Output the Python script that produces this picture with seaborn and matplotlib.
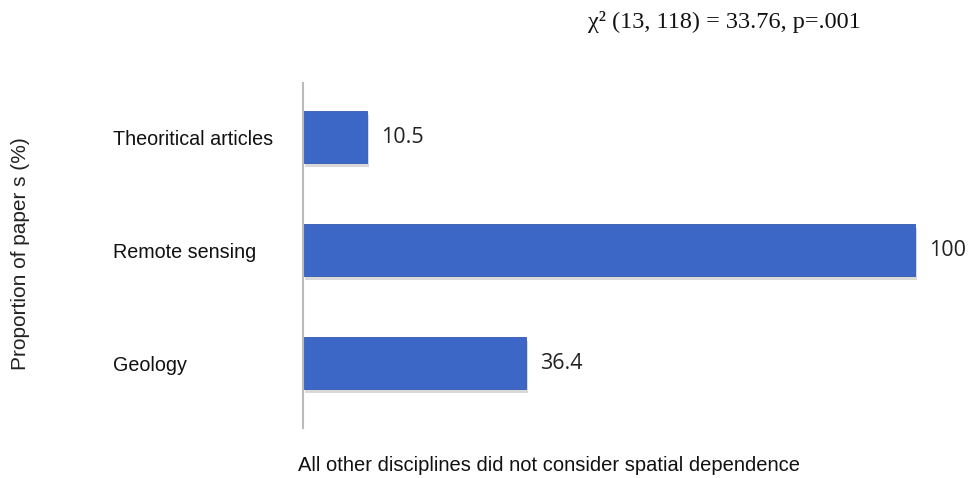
import pandas as pd
import seaborn as sns
import matplotlib.pyplot as plt
import matplotlib.patheffects as pe

sns.set_style("white")
plt.rcParams.update({
    "font.family": ["Liberation Sans", "DejaVu Sans"],
})

disciplines = ["Theoritical articles", "Remote sensing", "Geology"]
proportions = [10.5, 100, 36.4]
value_labels = ["10.5", "100", "36.4"]

df = pd.DataFrame({"discipline": disciplines, "proportion": proportions})

fig = plt.figure(figsize=(9.73, 4.78), dpi=100)
ax = fig.add_axes([0.3114, 0.1046, 0.66, 0.7218])

sns.barplot(data=df, x="proportion", y="discipline", ax=ax, color="#3D67C6",
            saturation=1, width=0.46, edgecolor="#3559AE", linewidth=0.6)

for bar in ax.patches:
    bar.set_path_effects([pe.SimplePatchShadow(offset=(1.5, -2.5), alpha=0.22, shadow_rgbFace="#555555"),
                          pe.Normal()])

for bar, lab in zip(ax.patches, value_labels):
    ax.text(bar.get_width() + 2.3, bar.get_y() + bar.get_height() / 2, lab,
            va="center", ha="left", fontsize=15.5, color="#222222",
            family=["Open Sans", "DejaVu Sans"])

ax.set_xlim(0, 105)
ax.set_ylim(2.575, -0.48)
ax.set_xticks([])
ax.set_xlabel("All other disciplines did not consider spatial dependence",
              fontsize=14.5, color="#111111")
ax.xaxis.set_label_coords(-0.008, -0.08, transform=ax.transAxes)
ax.xaxis.label.set_ha("left")
ax.set_ylabel("")

for s in ["top", "right", "bottom"]:
    ax.spines[s].set_visible(False)
ax.spines["left"].set_color("#BBBBBB")
ax.spines["left"].set_linewidth(1.5)

ax.tick_params(axis="y", length=0, pad=137)
for t in ax.get_yticklabels():
    t.set_ha("left")
    t.set_fontsize(14.2)
    t.set_color("#111111")

fig.text(0.021, 0.469, "Proportion of paper s (%)", rotation=90, va="center", ha="center",
         fontsize=15, color="#222222")
fig.text(0.604, 0.955, "χ² (13, 118) = 33.76, p=.001", ha="left", va="center",
         fontsize=17.5, family=["Liberation Serif", "DejaVu Serif"], color="#111111")

plt.savefig("out.png", dpi=100)
